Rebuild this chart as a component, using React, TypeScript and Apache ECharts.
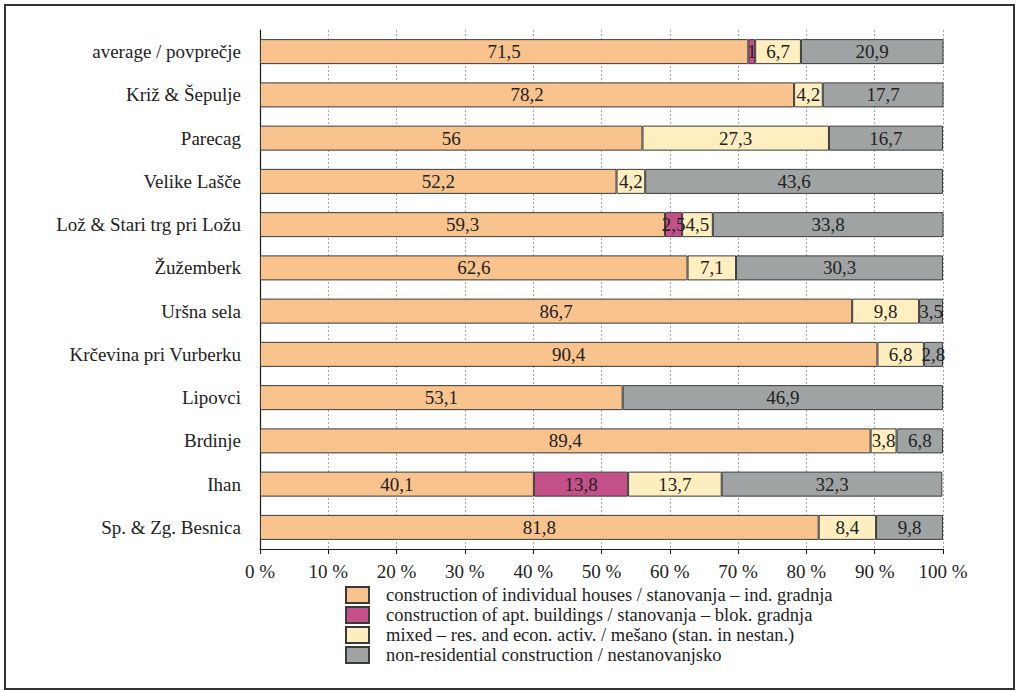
import React, { useEffect, useRef } from "react";
import * as echarts from "echarts";

const categories = [
  "average / povprečje",
  "Križ & Šepulje",
  "Parecag",
  "Velike Lašče",
  "Lož & Stari trg pri Ložu",
  "Žužemberk",
  "Uršna sela",
  "Krčevina pri Vurberku",
  "Lipovci",
  "Brdinje",
  "Ihan",
  "Sp. & Zg. Besnica",
];

const individualHouses = [71.5, 78.2, 56, 52.2, 59.3, 62.6, 86.7, 90.4, 53.1, 89.4, 40.1, 81.8];
const aptBuildings = [1, null, null, null, 2.5, null, null, null, null, null, 13.8, null];
const mixedUse = [6.7, 4.2, 27.3, 4.2, 4.5, 7.1, 9.8, 6.8, null, 3.8, 13.7, 8.4];
const nonResidential = [20.9, 17.7, 16.7, 43.6, 33.8, 30.3, 3.5, 2.8, 46.9, 6.8, 32.3, 9.8];

const seriesNames = [
  "construction of individual houses / stanovanja – ind. gradnja",
  "construction of apt. buildings / stanovanja – blok. gradnja",
  "mixed – res. and econ. activ. / mešano (stan. in nestan.)",
  "non-residential construction / nestanovanjsko",
];
const seriesColors = ["#F8C38D", "#C4508A", "#FEEEC0", "#A0A3A4"];
const xTicks = [0, 10, 20, 30, 40, 50, 60, 70, 80, 90, 100];

const FONT = "Liberation Serif, serif";

export default function App() {
  const ref = useRef<HTMLDivElement>(null);
  useEffect(() => {
    if (!ref.current) return;
    const chart = echarts.init(ref.current, undefined, { renderer: "svg" });
    const datasets = [individualHouses, aptBuildings, mixedUse, nonResidential];
    const fmt = (v: number) => String(v).replace(".", ",");
    chart.setOption({
      animation: false,
      backgroundColor: "#ffffff",
      textStyle: { fontFamily: FONT },
      grid: { left: 260, right: 73, top: 30, bottom: 142, containLabel: false },
      xAxis: {
        type: "value",
        min: xTicks[0],
        max: xTicks[xTicks.length - 1],
        interval: 10,
        axisLine: { show: true, lineStyle: { color: "#1a1a1a", width: 1.2 } },
        axisTick: { show: true, length: 5, lineStyle: { color: "#1a1a1a" } },
        axisLabel: {
          formatter: (v: number) => `${v} %`,
          fontFamily: FONT,
          fontSize: 19,
          color: "#222",
          margin: 13,
        },
        splitLine: { show: true, lineStyle: { color: "#aaa", type: [2, 2], width: 1 } },
      },
      yAxis: {
        type: "category",
        data: categories,
        inverse: true,
        axisLine: { show: true, lineStyle: { color: "#1a1a1a", width: 1.2 } },
        axisTick: { show: false },
        axisLabel: { fontFamily: FONT, fontSize: 19, color: "#222", margin: 19 },
        splitLine: { show: false },
      },
      legend: {
        orient: "vertical",
        left: 340,
        top: 580,
        itemWidth: 23,
        itemHeight: 16,
        itemGap: 0,
        icon: "rect",
        selectedMode: false,
        data: seriesNames,
        textStyle: {
          fontFamily: FONT,
          fontSize: 18.5,
          color: "#222",
          padding: [0, 0, 0, 12],
          lineHeight: 20,
        },
      },
      series: seriesNames.map((name, i) => ({
        name,
        type: "bar",
        stack: "total",
        barWidth: 25,
        data: datasets[i],
        itemStyle: { color: seriesColors[i], borderColor: "#3a3a3a", borderWidth: 1 },
        label: {
          show: true,
          position: "inside",
          formatter: (p: any) => fmt(p.value),
          fontFamily: FONT,
          fontSize: 19,
          color: "#222",
        },
      })),
      graphic: [
        {
          type: "rect",
          shape: { x: 5, y: 5, width: 1009, height: 684 },
          style: { fill: "none", stroke: "#333", lineWidth: 2 },
          silent: true,
        },
      ],
    });
    return () => chart.dispose();
  }, []);
  return (
    <div
      ref={ref}
      style={{ position: "fixed", left: 0, top: 0, width: 1016, height: 691 }}
    />
  );
}
